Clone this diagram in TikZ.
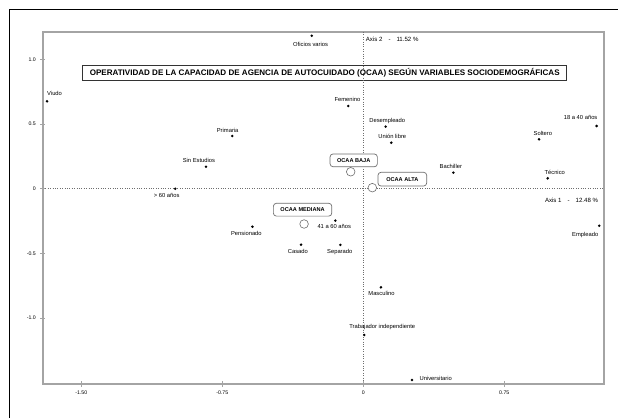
\documentclass[tikz,border=0pt]{standalone}
\usepackage{fontspec}
\setmainfont{Liberation Sans}
\usepackage{tikz}
\usetikzlibrary{positioning,calc}
\definecolor{framegray}{HTML}{A4A4A4}
\definecolor{axisgray}{HTML}{6E6E6E}

\begin{document}
\begin{tikzpicture}[x=1pt,y=-1pt,
  pt/.style={circle,fill=black,inner sep=0pt,minimum size=2.8pt},
  lbl/.style={inner sep=0pt,font=\fontsize{5.8}{6}\selectfont},
  tklbl/.style={inner sep=0pt,font=\fontsize{5.2}{6}\selectfont},
  axlbl/.style={inner sep=0pt,font=\fontsize{6.1}{7}\selectfont},
  grp/.style={circle,draw=axisgray,fill=white,inner sep=0pt,minimum size=8.6pt,line width=0.6pt},
  grpbox/.style={draw=axisgray,rounded corners=3pt,fill=white,line width=0.7pt,inner xsep=6.5pt,inner ysep=0pt,minimum height=12.8pt,font=\fontsize{5.6}{6}\bfseries\selectfont},
  tick/.style={framegray,line width=0.8pt}]
\useasboundingbox (0,0) rectangle (618,418);
\draw[line width=0.9pt] (9,418) -- (9,9) -- (618,9);
\draw[framegray,line width=1.3pt] (43,32) rectangle (604,384);
\node[draw=black!80,line width=0.8pt,minimum width=484pt,minimum height=15pt,inner sep=0pt,font=\fontsize{8.05}{9}\bfseries\selectfont] (titulo) at (324.7,73.2) {OPERATIVIDAD DE LA CAPACIDAD DE AGENCIA DE AUTOCUIDADO (OCAA) SEGÚN VARIABLES SOCIODEMOGRÁFICAS};

% data coordinates: axis 1 / axis 2
\begin{scope}[shift={(363.3,188.7)},x=188pt,y=129.3pt]
\coordinate (xleft) at (-1.704,0);
\coordinate (xright) at (1.280,0);
\coordinate (ytop) at (0,1.212);
\coordinate (ybot) at (0,-1.510);
\draw[axisgray,line width=0.8pt,dash pattern=on 0.8pt off 1.6pt] (xleft) -- (xright);
\draw[axisgray,line width=0.8pt,dash pattern=on 0.8pt off 1.6pt] (ytop) -- (ybot);
\node[axlbl,anchor=west] (eje2) at ([shift={(2.4pt,-7.3pt)}]ytop) {Axis 2\hspace{6pt}-\hspace{6pt}11.52 \%};
\node[axlbl,anchor=east] (eje1) at ([shift={(-5.7pt,-11.3pt)}]xright) {Axis 1\hspace{6pt}-\hspace{6pt}12.48 \%};

% ticks
\foreach \xv/\xs [count=\i] in {-1.5/-1.50,-0.75/-0.75,0/0,0.75/0.75} {
  \draw[tick] ([yshift=-3pt]\xv,-1.510) -- ([yshift=3pt]\xv,-1.510);
  \node[tklbl] (xt\i) at ([yshift=-8.7pt]\xv,-1.510) {\xs};
}
\foreach \yv/\ys [count=\i] in {1/1.0,0.5/0.5,0/0,-0.5/-0.5,-1/-1.0} {
  \draw[tick] ([xshift=-3pt]-1.704,\yv) -- ([xshift=2pt]-1.704,\yv);
  \node[tklbl,anchor=east] (yt\i) at ([xshift=-7pt]-1.704,\yv) {\ys};
}

% categories
\foreach \nm/\px/\py/\dx/\dy/\txt in {
  viudo/-1.682/0.676/7.5/7.8/Viudo,
  primaria/-0.697/0.408/-4.6/6/Primaria,
  sinestudios/-0.837/0.170/-7/6/Sin Estudios,
  mayor60/-1.000/0.000/-8.6/-6.7/> 60 años,
  oficios/-0.274/1.183/-1.2/-8.6/Oficios varios,
  femenino/-0.080/0.640/-0.8/6.7/Femenino,
  desempleado/0.119/0.480/1.6/6/Desempleado,
  unionlibre/0.149/0.356/1/6.4/Unión libre,
  edad18/1.241/0.485/-16/8.7/18 a 40 años,
  soltero/0.935/0.382/3.8/6.3/Soltero,
  bachiller/0.479/0.124/-2.5/6/Bachiller,
  tecnico/0.981/0.080/7/6/Técnico,
  pensionado/-0.590/-0.294/-6/-6.6/Pensionado,
  casado/-0.331/-0.433/-3.2/-7/Casado,
  edad41/-0.149/-0.247/-1/-6/41 a 60 años,
  separado/-0.122/-0.435/-0.6/-6.7/Separado,
  empleado/1.255/-0.286/-14/-9/Empleado,
  masculino/0.094/-0.763/0.5/-6/Masculino,
  trabindep/0.005/-1.131/18/8/Trabajador independiente,
  universitario/0.259/-1.479/23.7/1.7/Universitario} {
  \node[pt] (\nm) at (\px,\py) {};
  \node[lbl] (\nm-l) at ([shift={(\dx pt,\dy pt)}]\nm) {\txt};
}

% OCAA groups
\node[grp] (baja) at (-0.067,0.131) {};
\node[grp] (alta) at (0.048,0.008) {};
\node[grp] (mediana) at (-0.315,-0.273) {};
\node[grpbox,minimum width=47.3pt] (baja-l) at ([shift={(3pt,11.4pt)}]baja) {OCAA BAJA};
\node[grpbox,minimum width=48.7pt,minimum height=13.7pt] (alta-l) at ([shift={(30pt,8.5pt)}]alta) {OCAA ALTA};
\node[grpbox,minimum width=58.4pt] (mediana-l) at ([shift={(-1.5pt,14.3pt)}]mediana) {OCAA MEDIANA};
\end{scope}
\end{tikzpicture}
\end{document}
